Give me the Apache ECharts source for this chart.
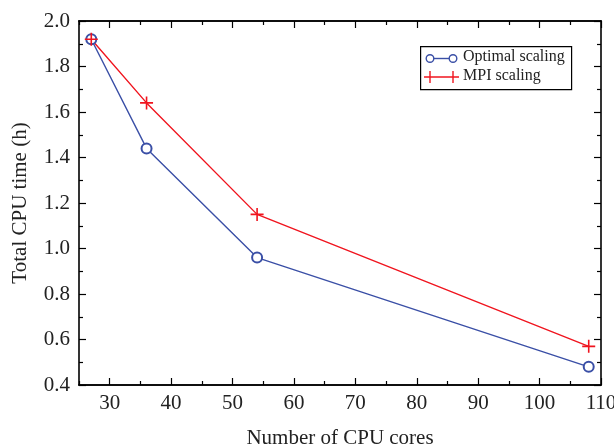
<!DOCTYPE html>
<html><head><meta charset="utf-8">
<script src="https://cdn.jsdelivr.net/npm/echarts@6/dist/echarts.min.js"></script>
<style>html,body{margin:0;padding:0;background:#fff}#c{width:614px;height:445px}</style>
</head><body><div id="c"></div>
<script>
const cores = [27, 36, 54, 108];
const optimalScaling = [1.92, 1.44, 0.96, 0.48];
const mpiScaling = [1.92, 1.64, 1.15, 0.57];
const xMajorTicks = [30, 40, 50, 60, 70, 80, 90, 100, 110];
const xMinorTicks = [25, 35, 45, 55, 65, 75, 85, 95, 105];
const seriesNames = ['Optimal scaling', 'MPI scaling'];

const FONT = '"Liberation Serif", "DejaVu Serif", serif';
const BLUE = '#3a4fa6';
const RED = '#f0141e';
const crossPath = 'path://M0,6L12,6M6,0L6,12';

const chart = echarts.init(document.getElementById('c'), null, {renderer: 'canvas'});
function xAx(pos, ticks, len, labels) {
  return {
    type: 'value', position: pos, min: 25, max: 110,
    axisLine: {show: true, lineStyle: {color: '#000', width: 1.6}},
    axisTick: {show: true, inside: true, length: len, customValues: ticks, lineStyle: {color: '#000', width: 1.2}},
    axisLabel: labels ? {show: true, customValues: ticks, color: '#222', fontFamily: FONT, fontSize: 21, margin: 8} : {show: false},
    splitLine: {show: false},
    name: labels ? 'Number of CPU cores' : '',
    nameLocation: 'middle', nameGap: 43,
    nameTextStyle: {color: '#222', fontFamily: FONT, fontSize: 21}
  };
}
function yAx(pos, labels) {
  return {
    type: 'value', position: pos, min: 0.4, max: 2.0, interval: 0.2,
    axisLine: {show: true, lineStyle: {color: '#000', width: 1.6}},
    axisTick: {show: true, inside: true, length: 7, lineStyle: {color: '#000', width: 1.2}},
    minorTick: {show: true, splitNumber: 2, length: 4, lineStyle: {color: '#000', width: 1.2}},
    axisLabel: labels ? {show: true, color: '#222', fontFamily: FONT, fontSize: 21, margin: 9,
      formatter: v => v.toFixed(1)} : {show: false},
    splitLine: {show: false},
    name: labels ? 'Total CPU time (h)' : '',
    nameLocation: 'middle', nameGap: 48,
    nameTextStyle: {color: '#222', fontFamily: FONT, fontSize: 21}
  };
}

chart.setOption({
  animation: false,
  backgroundColor: '#fff',
  grid: {left: 79, top: 21, right: 13, bottom: 60, containLabel: false, outerBoundsMode: 'none'},
  xAxis: [xAx('bottom', xMajorTicks, 7, true), xAx('bottom', xMinorTicks, 4, false),
          xAx('top', xMajorTicks, 7, false), xAx('top', xMinorTicks, 4, false)],
  yAxis: [yAx('left', true), yAx('right', false)],
  series: [
    {name: seriesNames[0], type: 'line', xAxisIndex: 0, yAxisIndex: 0,
     data: cores.map((c, i) => [c, optimalScaling[i]]),
     symbol: 'emptyCircle', symbolSize: 10,
     lineStyle: {color: BLUE, width: 1.4},
     itemStyle: {color: BLUE, borderColor: BLUE, borderWidth: 1.4}},
    {name: seriesNames[1], type: 'line', xAxisIndex: 0, yAxisIndex: 0,
     data: cores.map((c, i) => [c, mpiScaling[i]]),
     symbol: crossPath, symbolSize: 13,
     lineStyle: {color: RED, width: 1.4},
     itemStyle: {color: RED, borderColor: RED, borderWidth: 1.6}}
  ],
  graphic: [
    {type: 'rect', left: 420, top: 46, shape: {width: 151, height: 43},
     style: {fill: '#fff', stroke: '#000', lineWidth: 1.2}, z: 10},
    {type: 'line', shape: {x1: 430, y1: 58.5, x2: 453, y2: 58.5}, style: {stroke: BLUE, lineWidth: 1.4}, z: 11},
    {type: 'circle', shape: {cx: 430, cy: 58.5, r: 3.8}, style: {fill: '#fff', stroke: BLUE, lineWidth: 1.4}, z: 12},
    {type: 'circle', shape: {cx: 453, cy: 58.5, r: 3.8}, style: {fill: '#fff', stroke: BLUE, lineWidth: 1.4}, z: 12},
    {type: 'text', left: 463, top: 49, style: {text: seriesNames[0], fill: '#222', font: '16px ' + FONT}, z: 12},
    {type: 'line', shape: {x1: 424, y1: 77, x2: 459, y2: 77}, style: {stroke: RED, lineWidth: 1.4}, z: 11},
    {type: 'line', shape: {x1: 430, y1: 71, x2: 430, y2: 83}, style: {stroke: RED, lineWidth: 1.4}, z: 11},
    {type: 'line', shape: {x1: 453, y1: 71, x2: 453, y2: 83}, style: {stroke: RED, lineWidth: 1.4}, z: 11},
    {type: 'text', left: 463, top: 68, style: {text: seriesNames[1], fill: '#222', font: '16px ' + FONT}, z: 12}
  ]
});
</script></body></html>
